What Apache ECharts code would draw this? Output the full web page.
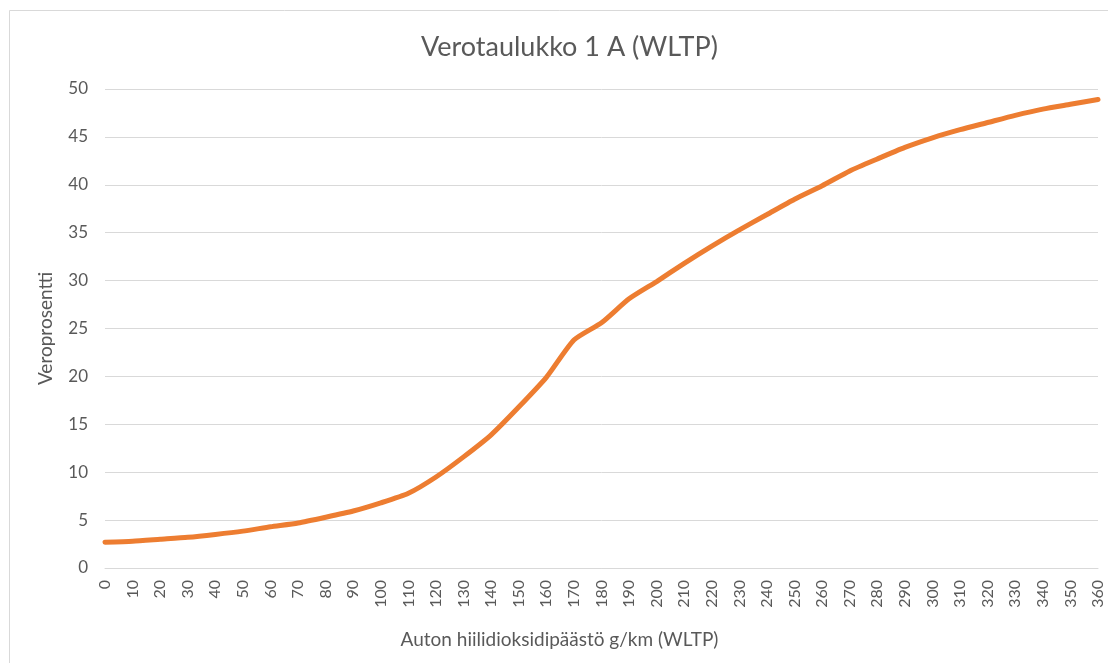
<!DOCTYPE html>
<html>
<head>
<meta charset="utf-8">
<script src="https://cdn.jsdelivr.net/npm/echarts@6/dist/echarts.min.js"></script>
<style>
  html, body { margin: 0; padding: 0; background: #fff; }
  #chart { width: 1108px; height: 663px; }
</style>
</head>
<body>
<div id="chart"></div>
<script>
  // CO2 emission g/km (every 10) and tax percentage
  var emissions = [0, 10, 20, 30, 40, 50, 60, 70, 80, 90, 100, 110, 120, 130, 140, 150, 160, 170, 180,
                   190, 200, 210, 220, 230, 240, 250, 260, 270, 280, 290, 300, 310, 320, 330, 340, 350, 360];
  var taxRate = [2.7, 2.8, 3.0, 3.2, 3.5, 3.85, 4.3, 4.7, 5.3, 5.95, 6.8, 7.8, 9.5, 11.6, 13.9, 16.8, 19.9, 23.8, 25.6,
                 28.1, 29.9, 31.8, 33.6, 35.3, 36.9, 38.5, 39.9, 41.45, 42.7, 43.9, 44.9, 45.75, 46.5, 47.25, 47.9, 48.4, 48.9];

  var chart = echarts.init(document.getElementById('chart'));

  var points = emissions.map(function (x, i) { return [x, taxRate[i]]; });
  var txt = '#595959';
  var font = 'Lato';

  chart.setOption({
    animation: false,
    backgroundColor: '#fff',
    title: {
      text: 'Verotaulukko 1 A (WLTP)',
      left: 416,
      top: 29,
      textStyle: { color: txt, fontSize: 27, fontWeight: 'normal', fontFamily: font }
    },
    graphic: [{
      type: 'rect',
      shape: { x: 9.5, y: 10.5, width: 1110, height: 670 },
      style: { fill: 'none', stroke: '#d9d9d9', lineWidth: 1 },
      silent: true
    }],
    grid: { left: 105, right: 10, top: 89, bottom: 95, containLabel: false },
    xAxis: {
      type: 'value',
      min: 0,
      max: 360,
      interval: 10,
      name: 'Auton hiilidioksidipäästö g/km (WLTP)',
      nameLocation: 'middle',
      nameGap: 62,
      nameMoveOverlap: false,
      nameTextStyle: { color: txt, fontSize: 19, fontFamily: font, padding: [0, 84, 0, 0] },
      axisLine: { show: true, lineStyle: { color: '#d9d9d9', width: 1 } },
      axisTick: { show: false },
      splitLine: { show: false },
      axisLabel: { rotate: 90, color: txt, fontSize: 16, fontFamily: font, margin: 12 }
    },
    yAxis: {
      type: 'value',
      min: 0,
      max: 50,
      interval: 5,
      name: 'Veroprosentti',
      nameLocation: 'middle',
      nameGap: 50,
      nameMoveOverlap: false,
      nameTextStyle: { color: txt, fontSize: 19, fontFamily: font },
      axisLine: { show: false },
      axisTick: { show: false },
      axisLabel: { color: txt, fontSize: 17, fontFamily: font, margin: 17 },
      splitLine: { lineStyle: { color: '#d9d9d9', width: 1 } }
    },
    series: [{
      type: 'line',
      data: points,
      smooth: 0.2,
      showSymbol: false,
      lineStyle: { color: '#ED7D31', width: 5, cap: 'round' }
    }]
  });
</script>
</body>
</html>
